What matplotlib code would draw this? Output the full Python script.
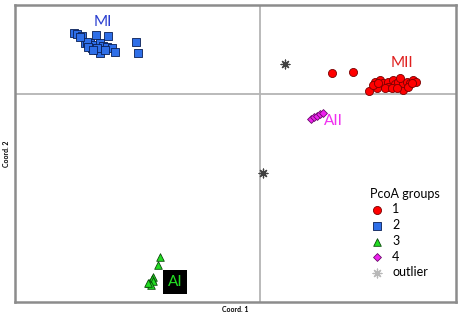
import numpy as np
import matplotlib
matplotlib.use('Agg')
import matplotlib.pyplot as plt

plt.rcParams['font.family'] = ['Lato', 'DejaVu Sans']

# PCoA coordinates (Coord. 1, Coord. 2)
g1_x = [0.72, 0.93, 1.09, 1.17, 1.15, 1.20, 1.23, 1.28, 1.28, 1.33, 1.35, 1.38, 1.42,
        1.43, 1.43, 1.47, 1.50, 1.53, 1.56, 1.25, 1.32, 1.37, 1.13, 1.18, 1.40, 1.48, 1.52]
g1_y = [0.21, 0.22, 0.03, 0.06, 0.12, 0.14, 0.11, 0.12, 0.07, 0.14, 0.10, 0.12, 0.06,
        0.04, 0.11, 0.12, 0.11, 0.14, 0.12, 0.06, 0.06, 0.06, 0.09, 0.11, 0.16, 0.07, 0.11]
g2_x = [-1.86, -1.83, -1.78, -1.64, -1.52, -1.75, -1.70, -1.65, -1.60, -1.57, -1.68, -1.62,
        -1.60, -1.53, -1.48, -1.45, -1.24, -1.22, -1.73, -1.63, -1.55, -1.80, -1.72, -1.67]
g2_y = [0.61, 0.60, 0.58, 0.59, 0.58, 0.51, 0.51, 0.49, 0.51, 0.48, 0.46, 0.44,
        0.41, 0.47, 0.46, 0.42, 0.52, 0.41, 0.52, 0.46, 0.44, 0.57, 0.47, 0.44]
g3_x = [-1.00, -1.02, -1.07, -1.08, -1.07, -1.11, -1.09, -1.12]
g3_y = [-1.63, -1.71, -1.83, -1.85, -1.87, -1.89, -1.91, -1.89]
g4_x = [0.51, 0.54, 0.57, 0.60, 0.63]
g4_y = [-0.25, -0.23, -0.22, -0.20, -0.19]
out_x = [0.25, 0.03]
out_y = [0.30, -0.79]

fig = plt.figure(figsize=(4.59, 3.17), dpi=100)
ax = fig.add_axes([14.5/459, 1-302/317, 441/459, 297/317])

ax.axhline(0, color='#b4b4b4', lw=1.3, zorder=0)
ax.axvline(0, color='#b4b4b4', lw=1.3, zorder=0)

ax.scatter(g1_x, g1_y, marker='o', s=34, c='#ff0000', edgecolors='#7a0000', linewidths=0.6, label='1', zorder=3)
ax.scatter(g2_x, g2_y, marker='s', s=28, c='#2f6fe8', edgecolors='#0a1f55', linewidths=0.6, label='2', zorder=3)
ax.scatter(g3_x, g3_y, marker='^', s=30, c='#22dd22', edgecolors='#0a4a0a', linewidths=0.6, label='3', zorder=3)
ax.scatter(g4_x, g4_y, marker='D', s=16, c='#ee22ee', edgecolors='#6a0a6a', linewidths=0.6, label='4', zorder=3)
ax.scatter(out_x, out_y, marker=(8, 2, 0), s=40, c='#404040', linewidths=0.9, label='outlier', zorder=3)

ax.text(-1.58, 0.72, 'MI', color='#2a3fd0', fontsize=11, ha='center', va='center')
ax.text(1.42, 0.31, 'MII', color='#e0201f', fontsize=11, ha='center', va='center')
ax.text(0.64, -0.27, 'AII', color='#f030f0', fontsize=11, ha='left', va='center')
ax.text(-0.85, -1.88, 'AI', color='#22dd22', fontsize=11, ha='center', va='center',
        bbox=dict(boxstyle='square,pad=0.3', fc='black', ec='none'))

ax.set_xlim(-2.46, 1.955)
ax.set_ylim(-2.08, 0.89)
ax.set_xticks([])
ax.set_yticks([])
for s in ax.spines.values():
    s.set_color('#8c8c8c')
    s.set_linewidth(1.8)

ax.set_xlabel('Coord. 1', fontsize=5, fontweight='bold', labelpad=3)
ax.set_ylabel('Coord. 2', fontsize=5, fontweight='bold', labelpad=3)

leg = ax.legend(title='PcoA groups', loc='upper left', bbox_to_anchor=(0.805, 0.385),
                frameon=False, fontsize=9, title_fontsize=9, handletextpad=0.6,
                handlelength=1.2, labelspacing=0.3, borderaxespad=0, borderpad=0)
leg._legend_box.align = 'left'
leg.legend_handles[4].set_color('#b8b8b8')

fig.savefig('out.png', dpi=100)
